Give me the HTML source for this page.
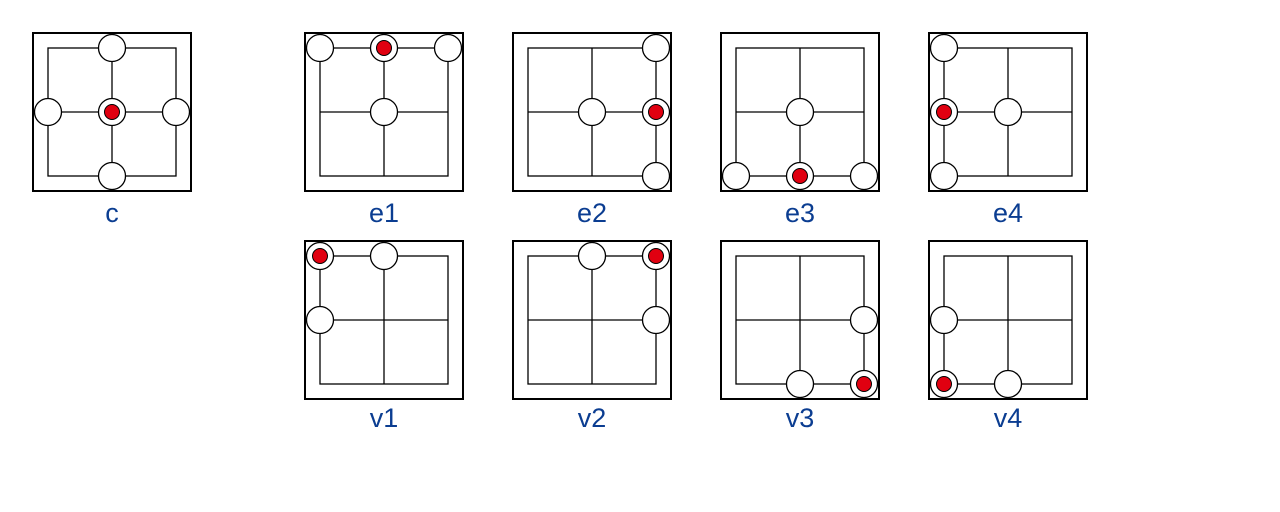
<!DOCTYPE html>
<html><head><meta charset="utf-8"><style>
html,body{margin:0;padding:0;background:#fff;}
svg{display:block;}
text{font-family:"Liberation Sans",sans-serif;font-size:27px;fill:#0b3d91;text-anchor:middle;}
</style></head><body>
<svg width="1280" height="512" viewBox="0 0 1280 512">
<defs>
<g id="grid">
<rect x="1" y="1" width="158" height="158" fill="#fff" stroke="#000" stroke-width="2"/>
<rect x="16" y="16" width="128" height="128" fill="none" stroke="#000" stroke-width="1.3"/>
<line x1="80" y1="16" x2="80" y2="144" stroke="#000" stroke-width="1.3"/>
<line x1="16" y1="80" x2="144" y2="80" stroke="#000" stroke-width="1.3"/>
</g>
<circle id="w" r="13.5" fill="#fff" stroke="#000" stroke-width="1.3"/>
<g id="r"><circle r="13.5" fill="#fff" stroke="#000" stroke-width="1.3"/><circle r="7.5" fill="#e00010" stroke="#000" stroke-width="1"/></g>
</defs>

<g transform="translate(32,32)"><use href="#grid"/>
<use href="#w" x="80" y="16"/><use href="#w" x="16" y="80"/><use href="#w" x="144" y="80"/><use href="#w" x="80" y="144"/><use href="#r" x="80" y="80"/></g>
<text x="112" y="222">c</text>

<g transform="translate(304,32)"><use href="#grid"/>
<use href="#w" x="16" y="16"/><use href="#r" x="80" y="16"/><use href="#w" x="144" y="16"/><use href="#w" x="80" y="80"/></g>
<text x="384" y="222">e1</text>

<g transform="translate(512,32)"><use href="#grid"/>
<use href="#w" x="144" y="16"/><use href="#w" x="80" y="80"/><use href="#r" x="144" y="80"/><use href="#w" x="144" y="144"/></g>
<text x="592" y="222">e2</text>

<g transform="translate(720,32)"><use href="#grid"/>
<use href="#w" x="80" y="80"/><use href="#w" x="16" y="144"/><use href="#r" x="80" y="144"/><use href="#w" x="144" y="144"/></g>
<text x="800" y="222">e3</text>

<g transform="translate(928,32)"><use href="#grid"/>
<use href="#w" x="16" y="16"/><use href="#r" x="16" y="80"/><use href="#w" x="16" y="144"/><use href="#w" x="80" y="80"/></g>
<text x="1008" y="222">e4</text>

<g transform="translate(304,240)"><use href="#grid"/>
<use href="#r" x="16" y="16"/><use href="#w" x="80" y="16"/><use href="#w" x="16" y="80"/></g>
<text x="384" y="427">v1</text>

<g transform="translate(512,240)"><use href="#grid"/>
<use href="#w" x="80" y="16"/><use href="#r" x="144" y="16"/><use href="#w" x="144" y="80"/></g>
<text x="592" y="427">v2</text>

<g transform="translate(720,240)"><use href="#grid"/>
<use href="#w" x="144" y="80"/><use href="#w" x="80" y="144"/><use href="#r" x="144" y="144"/></g>
<text x="800" y="427">v3</text>

<g transform="translate(928,240)"><use href="#grid"/>
<use href="#w" x="16" y="80"/><use href="#r" x="16" y="144"/><use href="#w" x="80" y="144"/></g>
<text x="1008" y="427">v4</text>
</svg>
</body></html>
